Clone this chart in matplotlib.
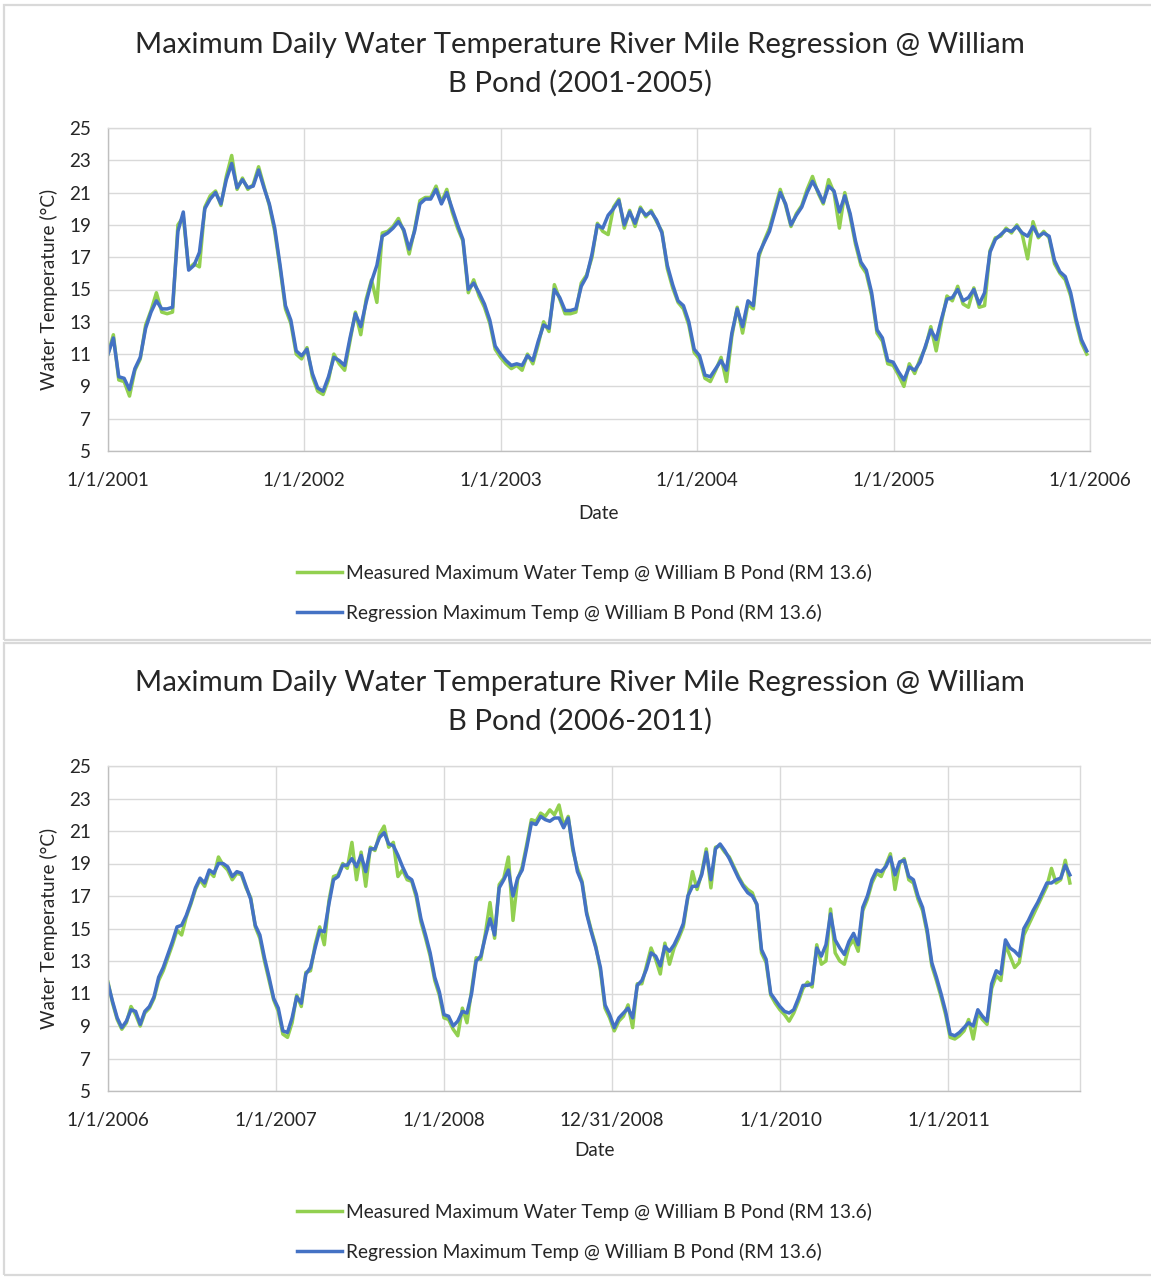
import matplotlib
matplotlib.use("Agg")
import matplotlib.pyplot as plt
import pandas as pd
from matplotlib.patches import Rectangle
from matplotlib.lines import Line2D

plt.rcParams["font.family"] = ["Lato", "DejaVu Sans"]

# Daily max water temperature, sampled every 10 days (deg C)
P1_START = "2001-01-01"
P1_REG = [
    11.0, 12.0, 9.6, 9.5, 8.8, 10.1, 10.8, 12.6, 13.6, 14.3,
    13.8, 13.8, 13.9, 18.6, 19.8, 16.2, 16.5, 17.3, 20.0, 20.6,
    21.0, 20.3, 21.8, 22.8, 21.3, 21.8, 21.3, 21.4, 22.4, 21.3,
    20.3, 18.8, 16.5, 14.0, 13.1, 11.2, 10.9, 11.3, 9.8, 8.9,
    8.7, 9.6, 10.8, 10.6, 10.3, 12.0, 13.5, 12.7, 14.2, 15.5,
    16.5, 18.3, 18.5, 18.8, 19.2, 18.7, 17.5, 18.6, 20.3, 20.6,
    20.6, 21.2, 20.3, 21.0, 20.0, 19.0, 18.1, 15.0, 15.4, 14.8,
    14.1, 13.1, 11.5, 11.0, 10.6, 10.3, 10.4, 10.3, 10.9, 10.6,
    11.8, 12.8, 12.6, 15.0, 14.5, 13.7, 13.7, 13.8, 15.2, 15.8,
    17.2, 19.0, 18.8, 19.6, 20.0, 20.5, 19.0, 19.8, 19.1, 20.0,
    19.6, 19.8, 19.3, 18.5, 16.5, 15.3, 14.3, 14.0, 13.0, 11.3,
    10.9, 9.7, 9.6, 10.1, 10.6, 10.0, 12.3, 13.8, 12.7, 14.3,
    14.0, 17.2, 17.9, 18.6, 19.8, 21.0, 20.3, 19.0, 19.6, 20.1,
    21.0, 21.7, 21.1, 20.4, 21.4, 21.1, 19.8, 20.8, 19.7, 18.0,
    16.7, 16.2, 14.8, 12.5, 12.0, 10.6, 10.5, 9.9, 9.4, 10.2,
    10.0, 10.5, 11.5, 12.5, 11.9, 13.2, 14.4, 14.5, 15.0, 14.3,
    14.5, 15.0, 14.1, 14.8, 17.3, 18.1, 18.4, 18.7, 18.6, 18.9,
    18.5, 18.3, 18.9, 18.3, 18.5, 18.3, 16.8, 16.1, 15.8, 14.8,
    13.2, 11.9, 11.2,
]
P1_MEAS = [
    11.0, 12.2, 9.4, 9.3, 8.4, 10.0, 10.7, 12.8, 13.7, 14.8,
    13.6, 13.5, 13.6, 19.0, 19.5, 16.3, 16.6, 16.4, 20.1, 20.8,
    21.1, 20.2, 22.0, 23.3, 21.2, 21.9, 21.2, 21.5, 22.6, 21.4,
    20.2, 18.6, 16.3, 13.8, 12.9, 11.0, 10.7, 11.4, 9.6, 8.7,
    8.5, 9.4, 11.0, 10.4, 10.0, 11.8, 13.6, 12.2, 14.4, 15.6,
    14.2, 18.5, 18.6, 18.9, 19.4, 18.6, 17.2, 18.7, 20.5, 20.7,
    20.7, 21.4, 20.4, 21.2, 19.8, 18.8, 18.0, 14.8, 15.6, 14.6,
    13.9, 12.9, 11.3, 10.8, 10.4, 10.1, 10.3, 10.0, 11.0, 10.4,
    11.6, 13.0, 12.4, 15.3, 14.4, 13.5, 13.5, 13.6, 15.4, 15.9,
    17.0, 19.1, 18.6, 18.4, 20.1, 20.6, 18.8, 19.9, 18.9, 20.1,
    19.5, 19.9, 19.2, 18.6, 16.3, 15.1, 14.2, 13.8, 12.8, 11.1,
    10.7, 9.5, 9.3, 10.0, 10.8, 9.3, 12.1, 13.9, 12.3, 14.1,
    13.8, 17.0, 18.0, 18.8, 20.0, 21.2, 20.2, 18.9, 19.7, 20.2,
    21.2, 22.0, 21.0, 20.3, 21.8, 21.0, 18.8, 21.0, 19.5, 17.8,
    16.5, 16.0, 14.6, 12.3, 11.8, 10.4, 10.3, 9.7, 9.0, 10.4,
    9.8, 10.7, 11.4, 12.7, 11.2, 13.0, 14.6, 14.3, 15.2, 14.1,
    13.9, 15.1, 13.9, 14.0, 17.4, 18.2, 18.3, 18.8, 18.5, 19.0,
    18.4, 16.9, 19.2, 18.2, 18.6, 18.2, 16.6, 16.0, 15.6, 14.6,
    13.0, 11.7, 11.0,
]

P2_START = "2006-01-01"
P2_REG = [
    11.6, 10.5, 9.5, 8.9, 9.3, 10.0, 9.9, 9.1, 9.9, 10.2,
    10.8, 12.0, 12.6, 13.4, 14.2, 15.1, 15.2, 15.8, 16.6, 17.5,
    18.1, 17.8, 18.6, 18.4, 19.0, 19.0, 18.8, 18.2, 18.5, 18.4,
    17.6, 16.8, 15.2, 14.6, 13.2, 12.0, 10.7, 10.1, 8.7, 8.6,
    9.5, 10.8, 10.4, 12.2, 12.6, 13.8, 14.9, 14.8, 16.5, 18.0,
    18.2, 18.9, 18.9, 19.3, 18.8, 19.5, 18.5, 19.9, 19.9, 20.6,
    20.9, 20.2, 20.1, 19.5, 18.8, 18.2, 18.0, 17.1, 15.6, 14.6,
    13.5, 12.0, 11.1, 9.7, 9.6, 9.0, 9.3, 9.9, 9.8, 11.0,
    13.0, 13.3, 14.5, 15.6, 14.6, 17.5, 18.0, 18.6, 17.0, 18.1,
    18.6, 20.0, 21.5, 21.4, 21.9, 21.7, 21.6, 21.8, 21.8, 21.2,
    21.8, 20.0, 18.5, 17.8, 15.9, 14.8, 13.8, 12.6, 10.3, 9.7,
    8.9, 9.5, 9.8, 10.1, 9.5, 11.5, 11.8, 12.5, 13.5, 13.3,
    12.7, 13.9, 13.6, 14.0, 14.6, 15.3, 17.0, 17.6, 17.6, 18.3,
    19.7, 18.0, 19.9, 20.2, 19.8, 19.3, 18.7, 18.1, 17.6, 17.2,
    17.0, 16.5, 13.7, 13.1, 11.0, 10.6, 10.2, 9.9, 9.8, 10.0,
    10.7, 11.5, 11.5, 11.6, 13.8, 13.3, 14.0, 15.9, 14.3, 13.8,
    13.4, 14.2, 14.7, 14.0, 16.3, 17.0, 18.0, 18.6, 18.5, 18.8,
    19.4, 18.3, 19.1, 19.2, 18.2, 18.0, 17.0, 16.3, 14.9, 12.9,
    12.0, 11.0, 9.9, 8.5, 8.4, 8.6, 8.9, 9.2, 9.0, 10.0,
    9.6, 9.3, 11.6, 12.4, 12.2, 14.3, 13.8, 13.6, 13.3, 15.0,
    15.5, 16.1, 16.6, 17.2, 17.8, 17.8, 18.0, 18.1, 18.9, 18.3,
]
P2_MEAS = [
    11.7, 10.4, 9.4, 8.8, 9.2, 10.2, 9.7, 9.0, 9.8, 10.1,
    10.7, 11.8, 12.4, 13.2, 14.0, 14.9, 14.6, 15.7, 16.5, 17.4,
    18.0, 17.6, 18.5, 18.2, 19.4, 18.9, 18.6, 18.0, 18.4, 18.3,
    17.5, 16.9, 15.1, 14.4, 13.0, 11.8, 10.6, 9.9, 8.5, 8.3,
    9.2, 10.9, 10.2, 12.3, 12.4, 14.0, 15.1, 14.0, 16.7, 18.2,
    18.3, 19.0, 18.7, 20.3, 18.0, 19.7, 17.6, 20.0, 19.8, 20.8,
    21.3, 20.0, 20.3, 18.2, 18.6, 18.0, 17.9, 16.9, 15.4, 14.4,
    13.3, 11.8, 10.9, 9.5, 9.4, 8.8, 8.4, 10.1, 9.2, 11.2,
    13.2, 13.1, 14.7, 16.6, 14.4, 17.7, 18.1, 19.4, 15.5, 18.0,
    18.8, 20.2, 21.7, 21.6, 22.1, 21.9, 22.3, 22.0, 22.6, 21.3,
    21.9, 19.8, 18.7, 17.9, 16.0, 14.9, 13.9, 12.4, 10.1, 9.5,
    8.7, 9.3, 9.6, 10.3, 8.9, 11.6, 11.6, 12.7, 13.8, 13.1,
    12.2, 14.1, 12.8, 13.8, 14.4, 15.1, 16.9, 18.5, 17.4, 18.4,
    19.9, 17.5, 20.0, 20.1, 19.7, 19.4, 18.8, 18.2, 17.7, 17.4,
    17.2, 16.4, 13.5, 12.9, 10.9, 10.4, 10.0, 9.7, 9.3, 9.8,
    10.5, 11.3, 11.7, 11.4, 14.0, 12.8, 13.0, 16.2, 13.5, 13.0,
    12.8, 13.9, 14.3, 13.6, 16.1, 16.8, 17.8, 18.4, 18.2, 18.9,
    19.6, 17.4, 19.0, 19.3, 18.0, 17.8, 16.8, 16.1, 14.7, 12.7,
    11.8, 10.8, 9.7, 8.3, 8.2, 8.4, 8.7, 9.4, 8.2, 9.8,
    9.4, 9.1, 11.3, 12.1, 11.8, 14.0, 13.3, 12.6, 12.9, 14.6,
    15.2, 15.8, 16.4, 17.0, 17.6, 18.7, 17.8, 18.0, 19.2, 17.8,
]

P1_XTICKS = ["2001-01-01", "2002-01-01", "2003-01-01", "2004-01-01", "2005-01-01", "2006-01-01"]
P1_XLABELS = ["1/1/2001", "1/1/2002", "1/1/2003", "1/1/2004", "1/1/2005", "1/1/2006"]
P2_XTICKS = ["2006-01-01", "2007-01-01", "2008-01-01", "2008-12-31", "2010-01-01", "2011-01-01"]
P2_XLABELS = ["1/1/2006", "1/1/2007", "1/1/2008", "12/31/2008", "1/1/2010", "1/1/2011"]
Y_TICKS = list(range(5, 26, 2))

MEAS_LABEL = "Measured Maximum Water Temp @ William B Pond (RM 13.6)"
REG_LABEL = "Regression Maximum Temp @ William B Pond (RM 13.6)"
TITLE_1 = "Maximum Daily Water Temperature River Mile Regression @ William"

GREEN = "#92D050"
BLUE = "#4472C4"
GRID = "#D9D9D9"
TEXT = "#262626"

W, H = 1151, 1277


def _rect(l, t, r, b):
    return [l / W, 1 - b / H, (r - l) / W, (b - t) / H]


def draw_panel(fig, box, ax_box, y_title, y_date, y_legend, title2, start, reg, meas,
               xticks, xlabels, xmax):
    l, t, r, b = box
    # chart frame (outline only, axes sit inside)
    fig.patches.append(Rectangle((l / W, 1 - b / H), (r - l) / W, (b - t) / H,
                                 transform=fig.transFigure, facecolor="none",
                                 edgecolor=GRID, linewidth=1.6, zorder=0))
    cx = 580 / W
    fig.text(cx, 1 - y_title / H, TITLE_1, ha="center", va="center", fontsize=21.2, color=TEXT)
    fig.text(cx, 1 - (y_title + 38) / H, title2, ha="center", va="center", fontsize=21.2, color=TEXT)

    ax = fig.add_axes(_rect(*ax_box))
    dates = pd.date_range(start, periods=len(reg), freq="10D")
    ax.plot(dates, meas, color=GREEN, linewidth=2.5, solid_joinstyle="round")
    ax.plot(dates, reg, color=BLUE, linewidth=2.5, solid_joinstyle="round")

    ax.set_xlim(pd.Timestamp(xticks[0]), pd.Timestamp(xmax))
    ax.set_ylim(5, 25)
    ax.set_yticks(Y_TICKS)
    ax.set_xticks(pd.to_datetime(xticks))
    ax.set_xticklabels(xlabels)
    ax.tick_params(length=0, labelsize=13.6, labelcolor=TEXT)
    ax.tick_params(axis="y", pad=12)
    ax.tick_params(axis="x", pad=15)
    ax.grid(True, color=GRID, linewidth=1.0)
    ax.set_axisbelow(True)
    for s in ax.spines.values():
        s.set_color(GRID)
        s.set_linewidth(1.0)
    ax.spines["left"].set_color("#BFBFBF")
    ax.spines["bottom"].set_color("#BFBFBF")
    ax.set_ylabel("Water Temperature (°C)", fontsize=13.6, color=TEXT, labelpad=8)

    axl, axt, axr, axb = ax_box
    fig.text((axl + axr) / 2 / W, 1 - y_date / H, "Date", ha="center", va="center",
             fontsize=13.6, color=TEXT)

    handles = [Line2D([], [], color=GREEN, linewidth=2.5),
               Line2D([], [], color=BLUE, linewidth=2.5)]
    fig.legend(handles, [MEAS_LABEL, REG_LABEL], loc="center",
               bbox_to_anchor=(584 / W, 1 - y_legend / H), frameon=False,
               fontsize=13.8, handlelength=2.35, handletextpad=0.2, labelspacing=1.15,
               labelcolor=TEXT)
    return ax


fig = plt.figure(figsize=(W / 100, H / 100), dpi=100)

draw_panel(fig, (4, 5, W + 6, 640), (108, 128, 1090, 451), 45, 513, 593,
           "B Pond (2001-2005)", P1_START, P1_REG, P1_MEAS,
           P1_XTICKS, P1_XLABELS, "2006-01-01")
draw_panel(fig, (4, 643, W + 6, 1275), (108, 766, 1080, 1091), 683, 1151, 1232,
           "B Pond (2006-2011)", P2_START, P2_REG, P2_MEAS,
           P2_XTICKS, P2_XLABELS, "2011-10-14")

fig.savefig("out.png", dpi=100)
